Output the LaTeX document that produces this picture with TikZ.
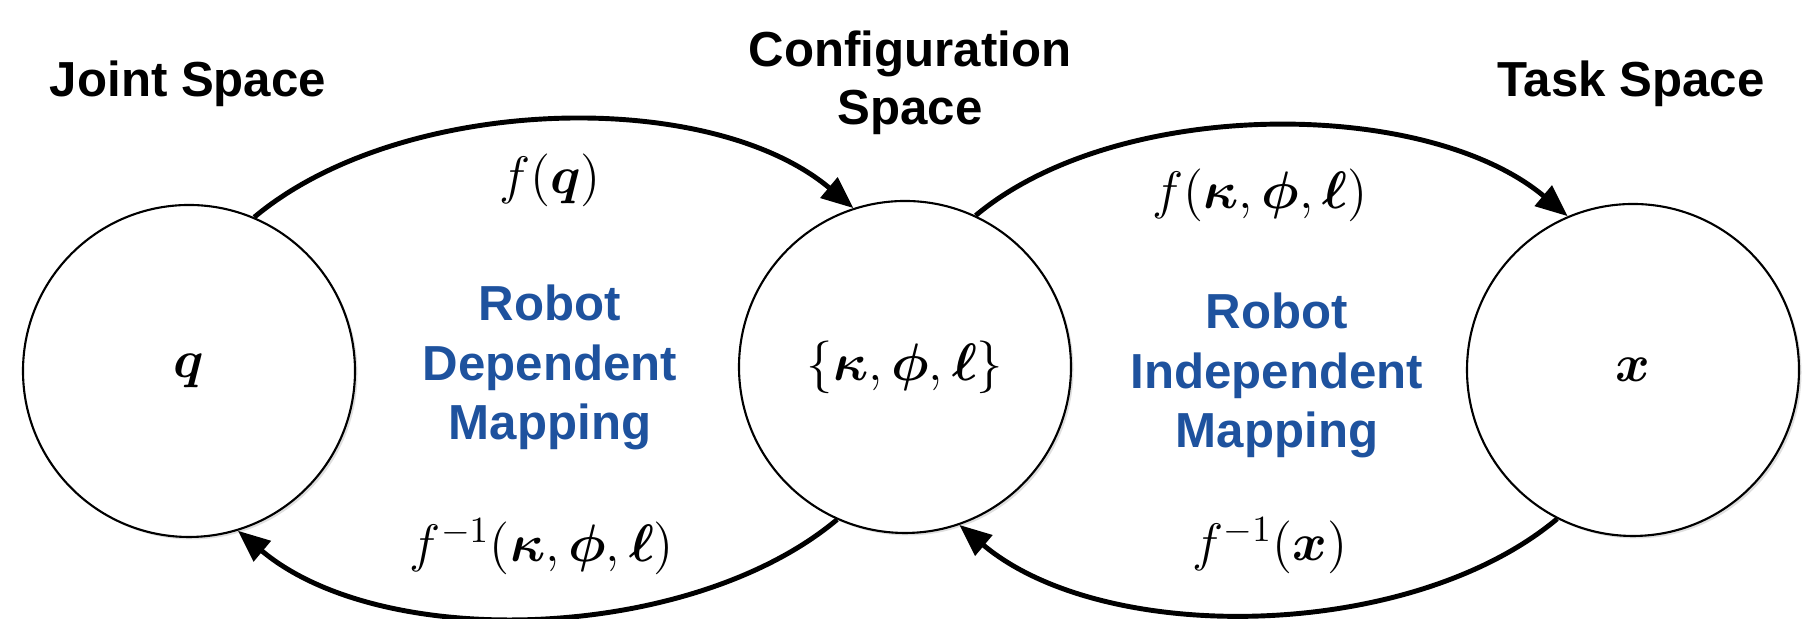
\RequirePackage{fix-cm}
\documentclass[tikz,border=0pt]{standalone}
\usepackage{fontspec}
\setsansfont{Liberation Sans}
\usepackage{bm}
\usetikzlibrary{arrows.meta,shadows}

\definecolor{mapblue}{RGB}{30,82,158}

\begin{document}
\begin{tikzpicture}[
		space/.style={circle, draw, line width=0.6pt, fill=white, minimum size=3.32cm, inner sep=0pt, font=\fontsize{15}{18}\selectfont, drop shadow={opacity=0.25, shadow xshift=0.025cm, shadow yshift=-0.025cm}},
		title/.style={font=\sffamily\bfseries\fontsize{14}{16.5}\selectfont, align=center, anchor=base},
		mapping/.style={font=\sffamily\bfseries\fontsize{14}{17}\selectfont, text=mapblue, align=center, anchor=base},
		func/.style={font=\fontsize{15}{18}\selectfont, anchor=base},
		map/.style={line width=1.4pt, -{Triangle[length=0.32cm,width=0.26cm]}}
	]
		\useasboundingbox (0,0) rectangle (18.15,6.19);
		
		% the three spaces
		\node[space] (joint) at (1.89,2.48) {$\bm{q}$};
		\node[space] (config) at (9.05,2.52) {$\{\bm{\kappa},\bm{\phi},\bm{\ell}\}$};
		\node[space] (task) at (16.33,2.49) {$\bm{x}$};
		
		% titles (base = last line)
		\node[title] (jointtitle) at (1.88,5.22) {Joint Space};
		\node[title] (configtitle) at (9.10,4.94) {Configuration\\Space};
		\node[title] (tasktitle) at (16.31,5.22) {Task Space};
		
		% mappings
		\node[mapping] (dep) at (5.50,1.79) {Robot\\Dependent\\Mapping};
		\node[mapping] (indep) at (12.77,1.71) {Robot\\Independent\\Mapping};
		
		% forward and inverse maps
		\draw[map] (joint.67) .. controls +(40:1.9) and +(140:1.9) .. (config.108);
		\draw[map] (config.65) .. controls +(40:1.85) and +(140:1.85) .. (task.113);
		\draw[map] (config.246) .. controls +(220:1.9) and +(-40:1.9) .. (joint.287);
		\draw[map] (task.243) .. controls +(220:1.9) and +(-40:1.9) .. (config.289);
		
		\node[func] (fq) at (5.50,4.25) {$f(\bm{q})$};
		\node[func] (fk) at (12.60,4.10) {$f(\bm{\kappa},\bm{\phi},\bm{\ell})$};
		\node[func] (finvk) at (5.42,0.57) {$f^{-1}(\bm{\kappa},\bm{\phi},\bm{\ell})$};
		\node[func] (finvx) at (12.70,0.58) {$f^{-1}(\bm{x})$};
\end{tikzpicture}
\end{document}
